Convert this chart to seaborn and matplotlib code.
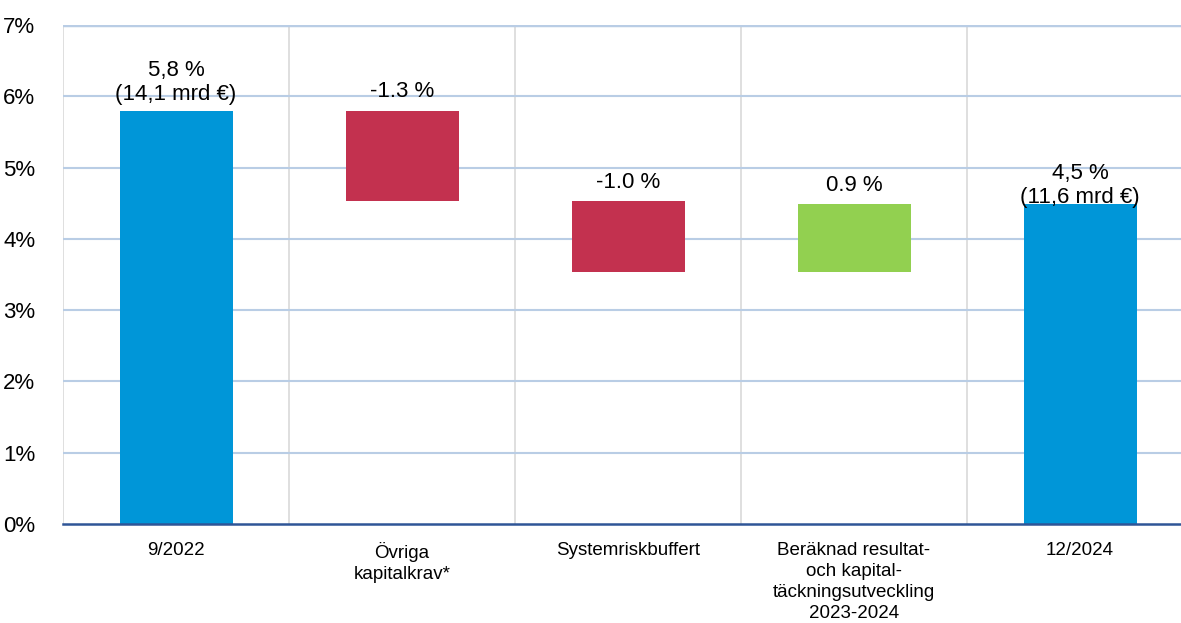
import matplotlib
matplotlib.use("Agg")
import matplotlib.pyplot as plt
import seaborn as sns

# waterfall data (percent)
categories = ["9/2022", "Övriga\nkapitalkrav*", "Systemriskbuffert",
              "Beräknad resultat-\noch kapital-\ntäckningsutveckling\n2023-2024", "12/2024"]
heights = [5.8, -1.27, -1.0, 0.96, 4.49]
bottoms = [0.0, 5.8, 4.53, 3.53, 0.0]
labels = ["5,8 %\n(14,1 mrd €)", "-1.3 %", "-1.0 %", "0.9 %", "4,5 %\n(11,6 mrd €)"]
yticks = [0, 1, 2, 3, 4, 5, 6, 7]

colors = ["#0096D8", "#C3314F", "#C3314F", "#92D050", "#0096D8"]
label_offsets = [4, 6, 6, 6, -3]

sns.set_style("white")
plt.rcParams["font.family"] = ["Liberation Sans", "DejaVu Sans"]
plt.rcParams["text.color"] = "black"
plt.rcParams["xtick.color"] = "black"
plt.rcParams["ytick.color"] = "black"

fig = plt.figure(figsize=(11.81, 6.23), dpi=100)
ax = fig.add_axes([63 / 1181, 1 - 524 / 623, 1130 / 1181, 499 / 623])

for i, cat in enumerate(categories):
    h = abs(heights[i])
    b = bottoms[i] if heights[i] >= 0 else bottoms[i] + heights[i]
    sns.barplot(x=[cat], y=[h], bottom=b, color=colors[i], order=categories,
                width=0.5, saturation=1, linewidth=0, edgecolor="none", ax=ax, zorder=3)

# data labels above each bar
for i, txt in enumerate(labels):
    top = max(bottoms[i], bottoms[i] + heights[i])
    ax.annotate(txt, (i, top), xytext=(0, label_offsets[i]), textcoords="offset points",
                ha="center", va="bottom", fontsize=16, linespacing=1.2, zorder=4)

ax.set_ylim(0, 7)
ax.set_xlim(-0.5, 4.5)
ax.set_yticks(yticks)
ax.set_yticklabels([f"{t}%" for t in yticks], fontsize=16)
ax.tick_params(axis="y", length=0, pad=20, labelcolor="black")
ax.tick_params(axis="x", length=0, pad=13, labelsize=13.5, labelcolor="black")
for lab in ax.get_xticklabels():
    lab.set_linespacing(1.3)
    lab.set_va("top")
ax.set_xlabel("")
ax.set_ylabel("")

for y in yticks[1:]:
    ax.axhline(y, color="#B9CDE5", lw=1.5 if y < 7 else 2.5, zorder=1)
for x in [-0.5, 0.5, 1.5, 2.5, 3.5]:
    ax.axvline(x, color="#D9D9D9", lw=1.2, zorder=0.5)

for s in ["top", "right", "left"]:
    ax.spines[s].set_visible(False)
ax.spines["bottom"].set_color("#2F5597")
ax.spines["bottom"].set_linewidth(1.8)
ax.spines["bottom"].set_zorder(5)

fig.savefig("out.png", dpi=100)
